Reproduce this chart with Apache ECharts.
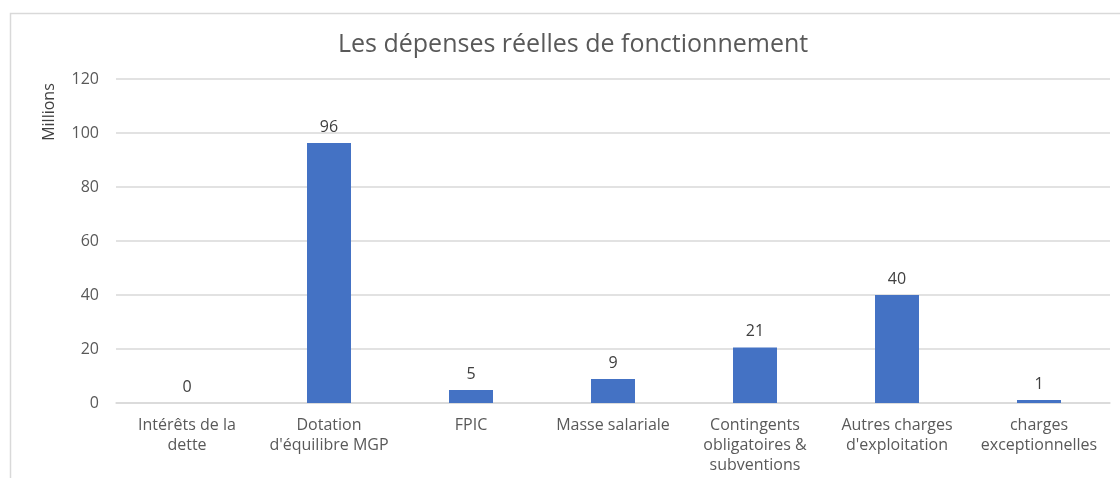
<!DOCTYPE html>
<html>
<head>
<meta charset="utf-8">
<script src="https://cdn.jsdelivr.net/npm/echarts@6/dist/echarts.min.js"></script>
<style>
  html, body { margin: 0; padding: 0; background: #fff; }
  #chart { width: 1120px; height: 478px; }
</style>
</head>
<body>
<div id="chart"></div>
<script>
// données (en millions)
var categories = ['Intérêts de la\ndette', 'Dotation\nd\'équilibre MGP', 'FPIC', 'Masse salariale',
	'Contingents\nobligatoires &\nsubventions', 'Autres charges\nd\'exploitation', 'charges\nexceptionnelles'];
var depenses = [0, 96.3, 4.8, 8.9, 20.6, 40.0, 1.1];
var yTicks = [0, 20, 40, 60, 80, 100, 120];

var font = 'Open Sans';
var grey = '#595959';

var chart = echarts.init(document.getElementById('chart'));
var option = {
	animation : false,
	title : {
		text : 'Les dépenses réelles de fonctionnement',
		left : 333,
		top : 27,
		textStyle : {
			fontFamily : font,
			fontSize : 25,
			fontWeight : 'normal',
			color : grey
		}
	},
	// cadre et nom de l'axe
	graphic : [ {
		type : 'polyline',
		shape : { points : [ [ 10.5, 478 ], [ 10.5, 13.5 ], [ 1120, 13.5 ] ] },
		style : { stroke : '#d9d9d9', fill : null, lineWidth : 1.5 }
	}, {
		type : 'text',
		x : 49,
		y : 112,
		rotation : Math.PI / 2,
		style : {
			text : 'Millions',
			fontFamily : font,
			fontSize : 16,
			fill : '#404040',
			align : 'center',
			verticalAlign : 'middle'
		}
	} ],
	grid : {
		left : 116,
		right : 10,
		top : 79,
		bottom : 75
	},
	xAxis : {
		type : 'category',
		data : categories,
		axisTick : { show : false },
		axisLine : { lineStyle : { color : '#d9d9d9', width : 1.5 } },
		axisLabel : {
			interval : 0,
			margin : 12,
			fontFamily : font,
			fontSize : 16,
			lineHeight : 20,
			color : grey
		}
	},
	yAxis : {
		type : 'value',
		min : yTicks[0],
		max : yTicks[yTicks.length - 1],
		interval : 20,
		axisLine : { show : false },
		axisTick : { show : false },
		splitLine : { lineStyle : { color : '#d9d9d9', width : 1.5 } },
		axisLabel : {
			margin : 17,
			fontFamily : font,
			fontSize : 16,
			color : grey
		}
	},
	series : [ {
		type : 'bar',
		data : depenses,
		barWidth : 44,
		itemStyle : { color : '#4472c4' },
		label : {
			show : true,
			position : 'top',
			distance : 8,
			fontFamily : font,
			fontSize : 16,
			color : '#404040',
			formatter : function(p) {
				return Math.round(p.value);
			}
		}
	} ]
};

chart.setOption(option);
</script>
</body>
</html>
